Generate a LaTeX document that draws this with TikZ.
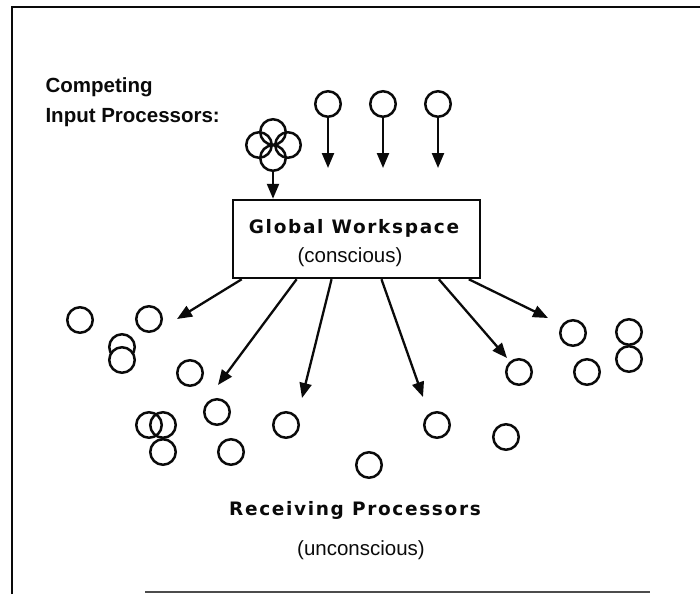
\documentclass[tikz,border=0pt]{standalone}
\usepackage{fontspec}
\setmainfont{Liberation Sans}
\newfontfamily\HeadFamily{DejaVu Sans}[LetterSpace=9.0]
\usetikzlibrary{arrows.meta, calc}
\definecolor{PaperInk}{HTML}{0A0A0A}
\newcommand{\HeadFont}{\HeadFamily\bfseries\fontsize{18.5pt}{22pt}\selectfont}
\newcommand{\LabelFont}{\bfseries\fontsize{20.5pt}{24pt}\selectfont}
\newcommand{\NoteFont}{\fontsize{20.5pt}{24pt}\selectfont}
\tikzset{
  proc/.style={circle, draw=PaperInk, line width=2.5pt, minimum size=25.5pt, inner sep=0pt},
  flow/.style={draw=PaperInk, line width=2.3pt, -{Triangle[length=15pt, width=12pt]}},
  wsbox/.style={draw=PaperInk, line width=2.5pt, minimum width=247pt, minimum height=78pt, inner sep=0pt}
}

\begin{document}
\begin{tikzpicture}[x=1pt, y=-1pt]
  \useasboundingbox (0,0) rectangle (700,594);
  % frame
  \draw[PaperInk, line width=2.6pt] (12,594) -- (12,7) -- (700,7);
  \draw[black!70, line width=2.4pt] (145,592) -- (650,592);
  % input processors
  \node[text=PaperInk, font=\LabelFont, anchor=base west] (lbl1) at (42,92) {Competing};
  \node[text=PaperInk, font=\LabelFont, anchor=base west] (lbl2) at (42,122) {Input Processors:};
  \node[proc] (c1) at (273,132) {};
  \node[proc] (c2) at (259,145) {};
  \node[proc] (c3) at (288,145) {};
  \node[proc] (c4) at (273,158) {};
  \node[proc] (i1) at (328,104) {};
  \node[proc] (i2) at (383,104) {};
  \node[proc] (i3) at (438,104) {};
  \coordinate (t1) at (328,168);
  \coordinate (t2) at (383,168);
  \coordinate (t3) at (438,168);
  % workspace
  \node[wsbox] (ws) at (356.5,239) {};
  \node[text=PaperInk, font=\HeadFont, anchor=base] (wstitle) at (354,233) {Global Workspace};
  \node[text=PaperInk, font=\NoteFont, anchor=base] (wsnote) at (350,262) {(conscious)};
  \draw[flow] (c4) -- (c4 |- ws.north);
  \draw[flow] (i1) -- (t1);
  \draw[flow] (i2) -- (t2);
  \draw[flow] (i3) -- (t3);
  % receiving processors
  \node[proc] (r1) at (80,320) {};
  \node[proc] (r2) at (149,319) {};
  \node[proc] (r3) at (122,347) {};
  \node[proc, fill=white] (r4) at (122,360) {};
  \node[proc] (r5) at (190,373) {};
  \node[proc] (r6) at (217,412) {};
  \node[proc] (r7) at (149,425) {};
  \node[proc] (r8) at (163,425) {};
  \node[proc] (r9) at (163,452) {};
  \node[proc] (r10) at (231,452) {};
  \node[proc] (r11) at (286,425) {};
  \node[proc] (r12) at (369,465) {};
  \node[proc] (r13) at (437,425) {};
  \node[proc] (r14) at (506,437) {};
  \node[proc] (r15) at (519,372) {};
  \node[proc] (r16) at (573,333) {};
  \node[proc] (r17) at (587,372) {};
  \node[proc] (r18) at (629,332) {};
  \node[proc] (r19) at (629,359) {};
  \coordinate (b1) at (177,319);
  \coordinate (b2) at (218,385);
  \coordinate (b3) at (302,398);
  \coordinate (b4) at (423,397);
  \coordinate (b5) at (507,358);
  \coordinate (b6) at (548,318);
  \draw[flow] ($(ws.south west)!.04!(ws.south east)$) -- (b1);
  \draw[flow] ($(ws.south west)!.26!(ws.south east)$) -- (b2);
  \draw[flow] ($(ws.south west)!.40!(ws.south east)$) -- (b3);
  \draw[flow] ($(ws.south west)!.60!(ws.south east)$) -- (b4);
  \draw[flow] ($(ws.south west)!.83!(ws.south east)$) -- (b5);
  \draw[flow] ($(ws.south west)!.95!(ws.south east)$) -- (b6);
  \node[text=PaperInk, font=\HeadFont, anchor=base] (rtitle) at (355,515) {Receiving Processors};
  \node[text=PaperInk, font=\NoteFont, anchor=base] (rnote) at (361,555) {(unconscious)};
\end{tikzpicture}
\end{document}
